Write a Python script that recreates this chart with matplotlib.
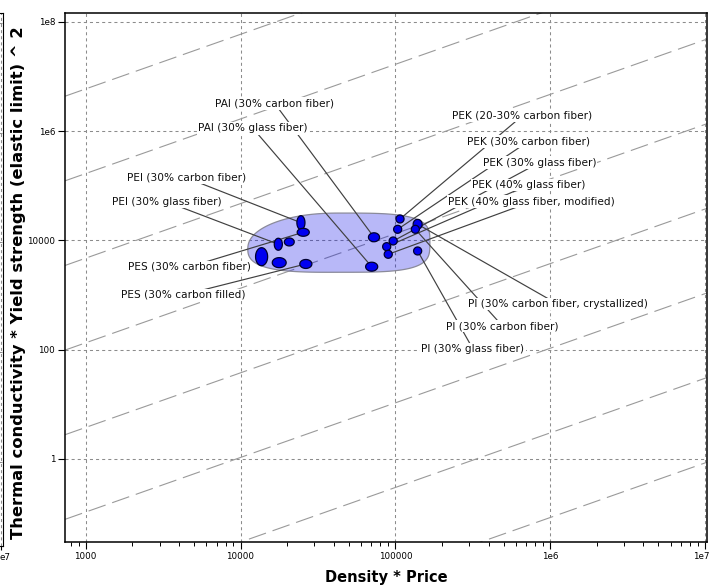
import numpy as np
import matplotlib
matplotlib.use('Agg')
from matplotlib import pyplot as plt
import matplotlib.ticker as plticker
import matplotlib.transforms as mtransforms

plt.rcParams['font.family'] = ['DejaVu Sans']
plt.rcParams['lines.scale_dashes'] = False

# records: centre values and spread (max/centre factor) of each bubble
names = ['PEI (30% carbon fiber)', 'PES (30% carbon fiber)', 'PEI (30% glass fiber)', None, None, None,
         'PES (30% carbon filled)', 'PAI (30% carbon fiber)', 'PAI (30% glass fiber)',
         'PEK (20-30% carbon fiber)', 'PEK (30% carbon fiber)', 'PEK (30% glass fiber)',
         'PEK (40% glass fiber)', 'PEK (40% glass fiber, modified)',
         'PI (30% carbon fiber, crystallized)', 'PI (30% carbon fiber)', 'PI (30% glass fiber)']
density_price = [24550, 25410, 17540, 20650, 13680, 17780, 26420, 72780, 70310,
                 107150, 103500, 96830, 87900, 89950, 139300, 134600, 139300]
tc_ys2 = [21090, 14060, 8492, 9354, 5023, 3908, 3698, 11400, 3296,
          24660, 15960, 9750, 7674, 5559, 19720, 15960, 6397]
x_spread = [1.062, 1.094, 1.062, 1.076, 1.094, 1.109, 1.094, 1.086, 1.094,
            1.062, 1.062, 1.062, 1.062, 1.062, 1.069, 1.062, 1.062]
y_spread = [1.343, 1.183, 1.288, 1.183, 1.462, 1.236, 1.208, 1.208, 1.208,
            1.183, 1.183, 1.183, 1.183, 1.183, 1.23, 1.183, 1.183]

# label anchor positions (data coordinates)
label_x = [4510, 4645, 3320, None, None, None, 4250, 16600, 12020,
           662000, 719000, 851000, 728000, 759000, 1114000, 492000, 317000]
label_y = [139000, 3260, 51200, None, None, None, 1000, 3.24e6, 1.13e6,
           1.92e6, 643000, 265000, 103500, 51200, 684, 270, 102.6]

# guide lines  y = c * x
guide_c = [5943, 167.5, 4.72, 0.133, 0.00375, 1.057e-4, 2.98e-6, 8.39e-8]

xlim = (735, 1.03e7)
ylim = (0.0299, 1.46e8)

fig = plt.figure(figsize=(7.11, 5.88), dpi=100)
ax = fig.add_axes([65/711, 1-542/588, 642/711, 529/588])
ax.set_xscale('log')
ax.set_yscale('log')
ax.set_xlim(*xlim)
ax.set_ylim(*ylim)

ax.set_axisbelow(True)
ax.grid(True, which='major', color='#8c8c8c', linestyle=(0, (2.2, 2.2)), linewidth=0.75)

for c in guide_c:
    xs = np.array(xlim)
    ax.plot(xs, c*xs, color='#9a9a9a', linewidth=0.8, linestyle=(0, (13, 5)), zorder=1)

t = np.linspace(0, 2*np.pi, 80)
lx = np.log10(density_price)
ly = np.log10(tc_ys2)
hx = np.log10(x_spread)
hy = np.log10(y_spread)

# envelope: rounded box round all bubbles (log space)
x0, x1 = (lx - hx).min() - 0.05, (lx + hx).max() + 0.05
y0, y1 = (ly - hy).min() - 0.02, (ly + hy).max() + 0.035
cx, rx = (x0 + x1)/2, (x1 - x0)/2
cy, ry = (y0 + y1)/2, (y1 - y0)/2
a = np.linspace(0, 2*np.pi, 300)
p = np.where(np.cos(a) < 0, 2.4, 3.6)
ux = np.sign(np.cos(a))*np.abs(np.cos(a))**(2/p)
uy = np.sign(np.sin(a))*np.abs(np.sin(a))**(2/p)
tilt = np.where(np.cos(a) < 0, 0.12, 0.0)*np.abs(ux)**2
ax.fill(10**(cx + rx*ux), 10**(cy + ry*uy - tilt), facecolor=(0.0, 0.0, 0.9, 0.28),
        edgecolor='#8a8a9a', linewidth=0.9, zorder=1.5)

for i in range(len(names)):
    if names[i] is None:
        continue
    ax.plot([density_price[i], label_x[i]], [tc_ys2[i], label_y[i]],
            color='#404040', linewidth=0.85, zorder=4)
    ax.text(label_x[i], label_y[i], names[i], ha='center', va='center', fontsize=7.6,
            color='#101010', zorder=6,
            bbox=dict(boxstyle='square,pad=0.12', fc='white', ec='none'))

for i in range(len(lx)):
    ex = 10**(lx[i] + hx[i]*np.cos(t))
    ey = 10**(ly[i] + hy[i]*np.sin(t))
    ax.fill(ex, ey, facecolor='#0000f0', edgecolor='#000030', linewidth=0.9, zorder=5)

ax.xaxis.set_major_locator(plticker.FixedLocator([1e3, 1e4, 1e5, 1e6, 1e7]))
ax.xaxis.set_major_formatter(plticker.FixedFormatter(['1000', '10000', '100000', '1e6', '1e7']))
ax.xaxis.set_minor_locator(plticker.LogLocator(base=10, subs=np.arange(2, 10)))
ax.xaxis.set_minor_formatter(plticker.NullFormatter())
ax.yaxis.set_major_locator(plticker.FixedLocator([1, 100, 1e4, 1e6, 1e8]))
ax.yaxis.set_major_formatter(plticker.FixedFormatter(['1', '100', '10000', '1e6', '1e8']))
ax.yaxis.set_minor_locator(plticker.NullLocator())
ax.tick_params(which='major', length=5, width=0.8, labelsize=6.3, pad=2, color='black')
ax.tick_params(which='minor', length=3, width=0.7)
for s in ax.spines.values():
    s.set_linewidth(1.1)

# keep the last x tick label inside the picture
fig.canvas.draw()
last = ax.get_xticklabels()[-1]
last.set_transform(last.get_transform() + mtransforms.ScaledTranslation(-4/100, 0, fig.dpi_scale_trans))

ax.set_xlabel('Density * Price', fontsize=10.5, fontweight='bold')
ax.xaxis.set_label_coords(0.5, -0.052)
ax.set_ylabel('Thermal conductivity * Yield strength (elastic limit) ^ 2', fontsize=11.8, fontweight='bold')
ax.yaxis.set_label_coords(-0.06, 0.49)

# cut-off edge of a neighbouring chart at the far left
ax2 = fig.add_axes([-0.3, 1-546/588, 0.3045, 533/588])
ax2.set_xscale('log')
ax2.set_xlim(1e5, 1.05e7)
ax2.set_yscale('log')
ax2.set_ylim(0.03, 1.5e8)
ax2.grid(True, which='major', color='#8c8c8c', linestyle=(0, (2.2, 2.2)), linewidth=0.75)
ax2.xaxis.set_major_locator(plticker.FixedLocator([1e7]))
ax2.xaxis.set_major_formatter(plticker.NullFormatter())
ax2.xaxis.set_minor_locator(plticker.NullLocator())
ax2.yaxis.set_major_locator(plticker.FixedLocator([1, 100, 1e4, 1e6, 1e8]))
ax2.yaxis.set_major_formatter(plticker.NullFormatter())
ax2.yaxis.set_minor_locator(plticker.NullLocator())
ax2.tick_params(length=3)
fig.text(0.0, 1-557/588, 'e7', fontsize=6.3, ha='left', va='center')

plt.savefig('out.png', dpi=100)
